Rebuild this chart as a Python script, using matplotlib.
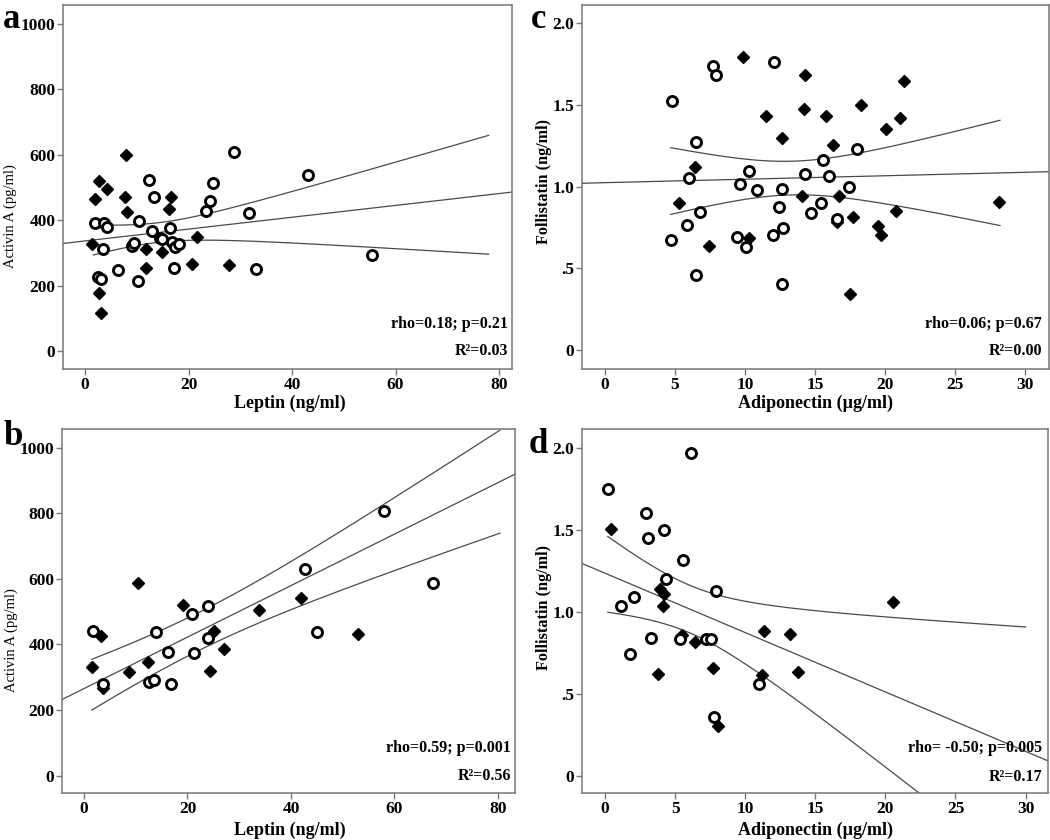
import numpy as np
import matplotlib
matplotlib.use('Agg')
import matplotlib.pyplot as plt

plt.rcParams['font.family'] = ['Liberation Serif', 'DejaVu Serif']

# ---------------- Panel a: Leptin vs Activin A ----------------
a_open_x = [1.9, 3.7, 4.2, 3.4, 2.6, 3.1, 6.4, 10.4, 10.2, 9.0, 9.5, 12.4, 13.3, 12.9, 14.4,
            14.8, 16.4, 16.9, 17.4, 18.2, 17.1, 23.3, 24.2, 24.7, 28.8, 31.6, 33.0, 43.0, 55.5]
a_open_y = [390, 392, 378, 312, 227, 219, 248, 397, 214, 321, 331, 522, 471, 367, 346,
            344, 375, 334, 319, 327, 255, 427, 460, 515, 609, 421, 251, 539, 294]
a_fill_x = [7.9, 2.7, 4.2, 1.9, 7.7, 8.1, 16.7, 16.2, 1.4, 3.5, 11.8, 14.9, 11.8, 21.7,
            20.6, 27.9, 2.8, 3.1]
a_fill_y = [599, 521, 496, 466, 472, 425, 470, 434, 328, 392, 313, 304, 253, 350,
            266, 263, 178, 115]
a_fit = [336.6, 1.81]                 # intercept, slope
a_band = [14.0, 30.0, 2.8, 1.6, 78.0]  # centre x, half-width at centre, growth, x from, x to

# ---------------- Panel b: Leptin vs Activin A ----------------
b_open_x = [1.68, 13.85, 16.3, 20.9, 23.9, 24.0, 21.3, 12.6, 13.6, 16.9, 42.8, 45.0, 58.0, 67.4, 3.6]
b_open_y = [441, 438, 376, 492, 518, 419, 375, 284, 292, 279, 629, 437, 807, 587, 280]
b_fill_x = [10.4, 3.3, 1.55, 3.7, 8.75, 12.4, 19.2, 25.1, 27.0, 24.3, 33.9, 41.9, 52.9]
b_fill_y = [587, 426, 331, 266, 317, 345, 521, 442, 387, 318, 505, 543, 433]
b_fit = [265.4, 7.85]
b_band = [22.0, 58.0, 2.5, 1.5, 80.4]

# ---------------- Panel c: Adiponectin vs Follistatin ----------------
c_open_x = [7.74, 7.93, 12.09, 4.81, 6.50, 5.98, 10.29, 9.64, 10.84, 12.62, 14.29, 6.79, 5.88, 4.69,
            12.45, 12.74, 12.02, 9.45, 10.05, 6.50, 12.64, 17.98, 15.55, 16.0, 17.45, 15.40, 14.69, 16.6]
c_open_y = [1.741, 1.684, 1.764, 1.525, 1.276, 1.053, 1.098, 1.015, 0.980, 0.988, 1.078, 0.847, 0.765, 0.672,
            0.876, 0.745, 0.706, 0.692, 0.633, 0.461, 0.402, 1.231, 1.162, 1.064, 0.998, 0.898, 0.837, 0.800]
c_fill_x = [9.84, 14.31, 14.21, 11.5, 12.62, 6.45, 5.31, 14.05, 10.31, 7.45, 21.36, 15.76, 18.26, 21.09,
            20.05, 16.31, 16.71, 17.69, 20.81, 19.48, 19.71, 16.55, 28.16, 17.52]
c_fill_y = [1.796, 1.684, 1.474, 1.435, 1.300, 1.119, 0.900, 0.943, 0.684, 0.639, 1.647, 1.431, 1.502, 1.421,
            1.355, 1.253, 0.945, 0.816, 0.853, 0.761, 0.702, 0.782, 0.904, 0.341]
c_fit = [1.025, 0.00212]
c_band = [13.3, 0.103, 0.0205, 4.7, 28.2]

# ---------------- Panel d: Adiponectin vs Follistatin ----------------
d_open_x = [0.24, 6.17, 2.90, 3.07, 4.19, 5.55, 4.38, 7.93, 2.10, 1.17, 3.26, 5.36, 7.21, 7.55, 1.81, 10.95, 7.76]
d_open_y = [1.746, 1.970, 1.600, 1.449, 1.496, 1.313, 1.199, 1.124, 1.090, 1.035, 0.838, 0.835, 0.834, 0.832,
            0.740, 0.561, 0.356]
d_fill_x = [0.40, 3.90, 4.24, 4.14, 5.48, 6.43, 11.33, 13.17, 7.67, 3.76, 11.19, 13.76, 8.05, 20.55]
d_fill_y = [1.502, 1.138, 1.106, 1.033, 0.858, 0.813, 0.880, 0.862, 0.657, 0.620, 0.616, 0.630, 0.301, 1.061]
d_fit = [1.235, -0.0362]
d_band = [6.0, 0.145, 0.031, 0.2, 30.0]

stats_text = {
    'a': ('rho=0.18; p=0.21', 'R\u00b2=0.03'),
    'b': ('rho=0.59; p=0.001', 'R\u00b2=0.56'),
    'c': ('rho=0.06; p=0.67', 'R\u00b2=0.00'),
    'd': ('rho= -0.50; p=0.005', 'R\u00b2=0.17'),
}

W, H = 1050, 840
fig = plt.figure(figsize=(W / 100, H / 100), dpi=100)


def rect(l, r, t, b):
    return [l / W, (H - b) / H, (r - l) / W, (b - t) / H]


def fx(px):
    return px / W


def fy(py):
    return 1 - py / H


LINE_C = '#4a4a4a'
SPINE_C = '#777777'


def panel(r, ox, oy, fxs, fys, fit, band, xlim, ylim, xticks, yticks, yticklabels):
    ax = fig.add_axes(r)
    ax.set_xlim(*xlim)
    ax.set_ylim(*ylim)
    xx = np.linspace(xlim[0], xlim[1], 200)
    ax.plot(xx, fit[0] + fit[1] * xx, color=LINE_C, lw=0.9, zorder=1)
    xc, h0, k, x0, x1 = band
    xb = np.linspace(x0, x1, 200)
    hw = np.sqrt(h0 ** 2 + (k * (xb - xc)) ** 2)
    yb = fit[0] + fit[1] * xb
    ax.plot(xb, yb + hw, color=LINE_C, lw=0.9, zorder=1)
    ax.plot(xb, yb - hw, color=LINE_C, lw=0.9, zorder=1)
    ax.plot(fxs, fys, linestyle='none', marker='D', markersize=6.4, color='black', zorder=3)
    ax.plot(ox, oy, linestyle='none', marker='o', markersize=7.2, mfc='white', mec='black',
            mew=2.1, zorder=4)
    ax.set_xticks(xticks)
    ax.set_yticks(yticks)
    ax.set_yticklabels(yticklabels)
    for s in ax.spines.values():
        s.set_color(SPINE_C)
        s.set_linewidth(1.1)
    ax.tick_params(direction='out', length=4, width=1, color=SPINE_C, labelsize=12.5, pad=1.5)
    for lab in ax.get_xticklabels() + ax.get_yticklabels():
        lab.set_fontweight('bold')
    return ax


act_ticks = [0, 200, 400, 600, 800, 1000]
fol_ticks = [0, 0.5, 1.0, 1.5, 2.0]
fol_labels = ['0', '.5', '1.0', '1.5', '2.0']

panel(rect(63, 512, 5, 369), a_open_x, a_open_y, a_fill_x, a_fill_y, a_fit, a_band,
      (-4.25, 82.5), (-55, 1058), [0, 20, 40, 60, 80], act_ticks, [str(t) for t in act_ticks])
panel(rect(62, 515, 429, 793), b_open_x, b_open_y, b_fill_x, b_fill_y, b_fit, b_band,
      (-4.25, 83.3), (-53, 1057), [0, 20, 40, 60, 80], act_ticks, [str(t) for t in act_ticks])
panel(rect(582, 1049, 5, 369), c_open_x, c_open_y, c_fill_x, c_fill_y, c_fit, c_band,
      (-1.64, 31.7), (-0.116, 2.113), [0, 5, 10, 15, 20, 25, 30], fol_ticks, fol_labels)
panel(rect(582, 1048, 429, 793), d_open_x, d_open_y, d_fill_x, d_fill_y, d_fit, d_band,
      (-1.64, 31.6), (-0.105, 2.114), [0, 5, 10, 15, 20, 25, 30], fol_ticks, fol_labels)

# panel letters
for letter, (px, py) in {'a': (3, 28), 'b': (3, 445), 'c': (531, 28), 'd': (529, 453)}.items():
    fig.text(fx(px), fy(py), letter, fontsize=25, fontweight='bold', ha='left', va='baseline')

# stats annotations
for key, (rx, y1, y2) in {'a': (508, 324, 351), 'b': (511, 748, 776),
                          'c': (1042, 324, 351), 'd': (1042, 748, 777)}.items():
    t1, t2 = stats_text[key]
    fig.text(fx(rx), fy(y1), t1, fontsize=11.5, fontweight='bold', ha='right', va='center')
    fig.text(fx(rx), fy(y2), t2, fontsize=11.5, fontweight='bold', ha='right', va='center')

# axis titles
fig.text(fx(290), fy(403), 'Leptin (ng/ml)', fontsize=13, fontweight='bold', ha='center', va='center')
fig.text(fx(290), fy(830), 'Leptin (ng/ml)', fontsize=13, fontweight='bold', ha='center', va='center')
fig.text(fx(815), fy(403), 'Adiponectin (\u00b5g/ml)', fontsize=13, fontweight='bold', ha='center', va='center')
fig.text(fx(815), fy(830), 'Adiponectin (\u00b5g/ml)', fontsize=13, fontweight='bold', ha='center', va='center')
fig.text(fx(10), fy(216), 'Activin A (pg/ml)', fontsize=10.5, rotation=90, ha='center', va='center')
fig.text(fx(11), fy(640), 'Activin A (pg/ml)', fontsize=10.5, rotation=90, ha='center', va='center')
fig.text(fx(544), fy(182), 'Follistatin (ng/ml)', fontsize=11.7, fontweight='bold', rotation=90,
         ha='center', va='center')
fig.text(fx(544), fy(607), 'Follistatin (ng/ml)', fontsize=11.7, fontweight='bold', rotation=90,
         ha='center', va='center')

fig.savefig('out.png', dpi=100)
